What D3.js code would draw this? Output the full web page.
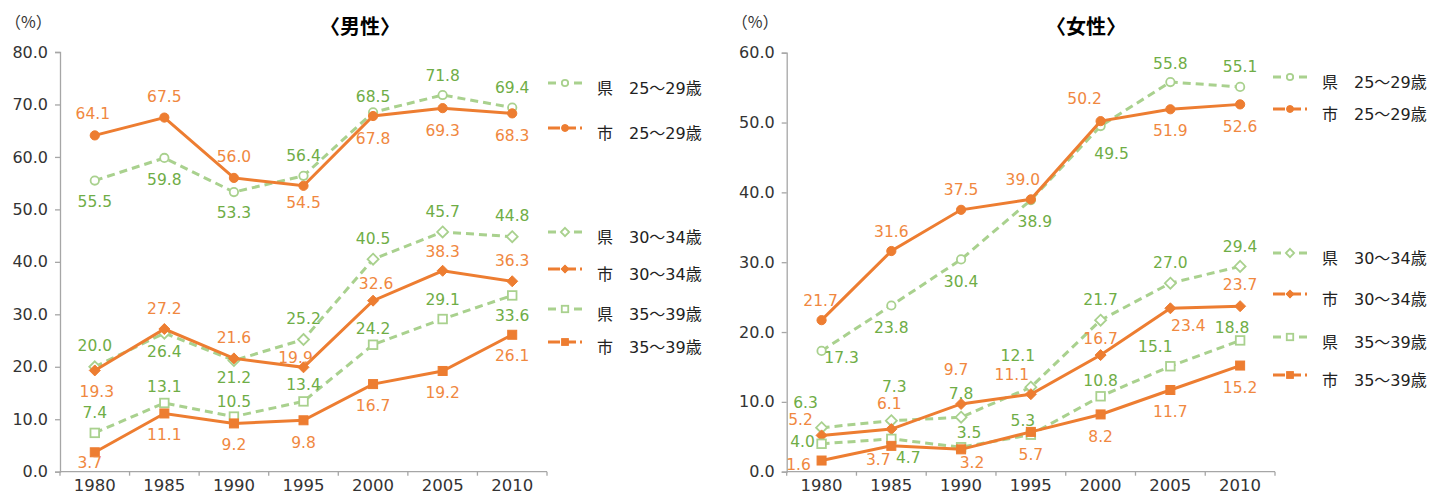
<!DOCTYPE html>
<html>
<head>
<meta charset="utf-8">
<script src="https://cdn.jsdelivr.net/npm/d3@7"></script>
<style>
  body { margin: 0; background: #fff; }
  svg { display: block; font-family: "DejaVu Sans", "Noto Sans CJK JP", sans-serif; }
</style>
</head>
<body>
<div id="chart"></div>
<script>
// data
var years = ["1980", "1985", "1990", "1995", "2000", "2005", "2010"];
var seriesNames = ["県　25～29歳", "市　25～29歳", "県　30～34歳", "市　30～34歳", "県　35～39歳", "市　35～39歳"];

var maleKen25 = [55.5, 59.8, 53.3, 56.4, 68.5, 71.8, 69.4];
var maleShi25 = [64.1, 67.5, 56.0, 54.5, 67.8, 69.3, 68.3];
var maleKen30 = [20.0, 26.4, 21.2, 25.2, 40.5, 45.7, 44.8];
var maleShi30 = [19.3, 27.2, 21.6, 19.9, 32.6, 38.3, 36.3];
var maleKen35 = [7.4, 13.1, 10.5, 13.4, 24.2, 29.1, 33.6];
var maleShi35 = [3.7, 11.1, 9.2, 9.8, 16.7, 19.2, 26.1];

var femaleKen25 = [17.3, 23.8, 30.4, 38.9, 49.5, 55.8, 55.1];
var femaleShi25 = [21.7, 31.6, 37.5, 39.0, 50.2, 51.9, 52.6];
var femaleKen30 = [6.3, 7.3, 7.8, 12.1, 21.7, 27.0, 29.4];
var femaleShi30 = [5.2, 6.1, 9.7, 11.1, 16.7, 23.4, 23.7];
var femaleKen35 = [4.0, 4.7, 3.5, 5.3, 10.8, 15.1, 18.8];
var femaleShi35 = [1.6, 3.7, 3.2, 5.7, 8.2, 11.7, 15.2];

var maleTicks = [0, 10, 20, 30, 40, 50, 60, 70, 80];
var femaleTicks = [0, 10, 20, 30, 40, 50, 60];

// label placement (dx, dy from the point)
var maleLabelOff = [
  [[0,21],[0,21],[0,20],[0,-20],[0,-16],[0,-20],[0,-20]],
  [[-2,-22],[0,-21],[0,-21],[0,17],[0,22],[0,22],[0,22]],
  [[0,-21],[0,18],[0,17],[0,-21],[0,-21],[0,-21],[0,-21]],
  [[2,21],[0,-21],[0,-21],[-8,-10],[3,-17],[0,-19],[0,-21]],
  [[0,-20],[0,-17],[0,-15],[0,-17],[0,-16],[0,-20],[0,20]],
  [[-5,10],[0,21],[0,21],[0,22],[0,21],[0,21],[0,21]]
];
var femaleLabelOff = [
  [[20,7],[0,22],[0,22],[4,21],[11,27],[0,-19],[0,-20]],
  [[-1,-20],[0,-20],[0,-20],[-8,-20],[-16,-23],[0,21],[0,22]],
  [[-16,-25],[3,-34],[0,-24],[-13,-32],[0,-21],[0,-21],[0,-20]],
  [[-21,-16],[-2,-26],[-5,-35],[-19,-20],[0,-17],[18,17],[0,-22]],
  [[-19,-2],[17,19],[8,-15],[-8,-14],[0,-16],[-15,-20],[-8,-13]],
  [[-23,4],[-13,14],[11,13],[0,23],[0,22],[0,21],[0,22]]
];

var orange = "#ED7D31", orangeText = "#F0883F";
var green = "#A9D18E", greenText = "#6FAD46";
var shapes = ["circle", "circle", "diamond", "diamond", "square", "square"];

var svg = d3.select("#chart").append("svg")
    .attr("width", 1436).attr("height", 494);

function drawMarker(g, shape, cx, cy, isKen, scale) {
  var s = scale || 1;
  var fill = isKen ? "#fff" : orange;
  var stroke = isKen ? green : orange;
  var m;
  if (shape == "circle") {
    m = g.append("circle").attr("cx", cx).attr("cy", cy).attr("r", (isKen ? 4.2 : 4.6) * s);
  } else if (shape == "diamond") {
    var r = 5.5 * s;
    m = g.append("path").attr("d", "M" + cx + "," + (cy - r) + "L" + (cx + r) + "," + cy + "L" + cx + "," + (cy + r) + "L" + (cx - r) + "," + cy + "Z");
  } else {
    var h = (isKen ? 4.3 : 4.5) * s;
    m = g.append("rect").attr("x", cx - h).attr("y", cy - h).attr("width", 2 * h).attr("height", 2 * h);
  }
  m.style("fill", fill).style("stroke", stroke).style("stroke-width", isKen ? 1.8 : 1);
}

function drawPanel(opt) {
  var x = d3.scaleBand().domain(years).range([opt.left, opt.right]);
  var y = d3.scaleLinear().domain([0, opt.max]).range([471.7, opt.top]);
  var g = svg.append("g");

  // title and unit
  g.append("text").attr("x", opt.titleX).attr("y", 34)
    .attr("text-anchor", "middle")
    .style("font-family", "'Noto Sans CJK JP'")
    .style("font-size", "20px").style("font-weight", "bold")
    .text(opt.title);
  g.append("text").attr("x", opt.left - 55).attr("y", 28)
    .style("font-family", "'Noto Sans CJK JP'")
    .style("font-size", "16px").style("fill", "#333")
    .text("（%）");

  // y axis
  var yAxis = g.append("g").attr("transform", "translate(" + opt.left + ",0)")
    .call(d3.axisLeft(y).tickValues(opt.ticks).tickSize(5).tickPadding(7).tickFormat(d3.format(".1f")));
  yAxis.select(".domain").attr("stroke", "#A6A6A6").attr("stroke-width", 1.3);
  yAxis.selectAll(".tick line").attr("stroke", "#A6A6A6").attr("stroke-width", 1.3);
  yAxis.selectAll(".tick text").style("font-size", "16px").style("fill", "#333")
    .style("font-family", "'DejaVu Sans'");

  // x axis
  var xa = g.append("g");
  xa.append("line").attr("x1", opt.left).attr("x2", opt.right)
    .attr("y1", y(0)).attr("y2", y(0))
    .attr("stroke", "#A6A6A6").attr("stroke-width", 1.3);
  years.forEach(function (yr) {
    xa.append("line").attr("x1", x(yr)).attr("x2", x(yr))
      .attr("y1", y(0)).attr("y2", y(0) + 4)
      .attr("stroke", "#A6A6A6").attr("stroke-width", 1.3);
  });
  xa.append("line").attr("x1", opt.right).attr("x2", opt.right)
    .attr("y1", y(0)).attr("y2", y(0) + 4)
    .attr("stroke", "#A6A6A6").attr("stroke-width", 1.3);
  xa.selectAll("text.yr").data(years).enter().append("text")
    .attr("class", "yr")
    .attr("x", function (d) { return x(d) + x.bandwidth() / 2; })
    .attr("y", 491)
    .attr("text-anchor", "middle")
    .style("font-size", "16.5px").style("fill", "#333")
    .text(function (d) { return d; });

  var cx = function (i) { return x(years[i]) + x.bandwidth() / 2; };
  var line = d3.line().x(function (d, i) { return cx(i); }).y(function (d) { return y(d); });

  // lines and markers
  opt.series.forEach(function (vals, s) {
    var isKen = s % 2 == 0;
    g.append("path").datum(vals).attr("d", line)
      .style("fill", "none")
      .style("stroke", isKen ? green : orange)
      .style("stroke-width", 3)
      .style("stroke-dasharray", isKen ? "8,5" : null);
    vals.forEach(function (v, i) {
      drawMarker(g, shapes[s], cx(i), y(v), isKen, 1);
    });
  });

  // data labels
  opt.series.forEach(function (vals, s) {
    var isKen = s % 2 == 0;
    g.selectAll(null).data(vals).enter().append("text")
      .attr("x", function (d, i) { return cx(i) + opt.off[s][i][0]; })
      .attr("y", function (d, i) { return y(d) + opt.off[s][i][1]; })
      .attr("dy", "0.36em")
      .attr("text-anchor", "middle")
      .style("font-size", "15.5px")
      .style("fill", isKen ? greenText : orangeText)
      .text(function (d) { return d3.format(".1f")(d); });
  });

  // legend
  opt.legendY.forEach(function (ly, s) {
    var isKen = s % 2 == 0;
    var lg = g.append("g");
    lg.append("line").attr("x1", opt.legendX).attr("x2", opt.legendX + 34)
      .attr("y1", ly).attr("y2", ly)
      .style("stroke", isKen ? green : orange).style("stroke-width", 3)
      .style("stroke-dasharray", isKen ? "8,5" : "12,4");
    drawMarker(lg, shapes[s], opt.legendX + 17, ly, isKen, 0.75);
    lg.append("text").attr("x", opt.legendX + 49).attr("y", ly + 5)
      .attr("dy", "0.36em")
      .style("font-size", "16px").style("fill", "#222")
      .text(seriesNames[s]);
  });
}

drawPanel({
  title: "〈男性〉", titleX: 360,
  left: 60, right: 547, top: 52, max: 80, ticks: maleTicks,
  series: [maleKen25, maleShi25, maleKen30, maleShi30, maleKen35, maleShi35],
  off: maleLabelOff,
  legendX: 548, legendY: [83, 128, 232, 269, 309, 342]
});

drawPanel({
  title: "〈女性〉", titleX: 1086,
  left: 786.7, right: 1275, top: 52.7, max: 60, ticks: femaleTicks,
  series: [femaleKen25, femaleShi25, femaleKen30, femaleShi30, femaleKen35, femaleShi35],
  off: femaleLabelOff,
  legendX: 1273, legendY: [77, 109, 253, 294, 337, 375]
});
</script>
</body>
</html>
